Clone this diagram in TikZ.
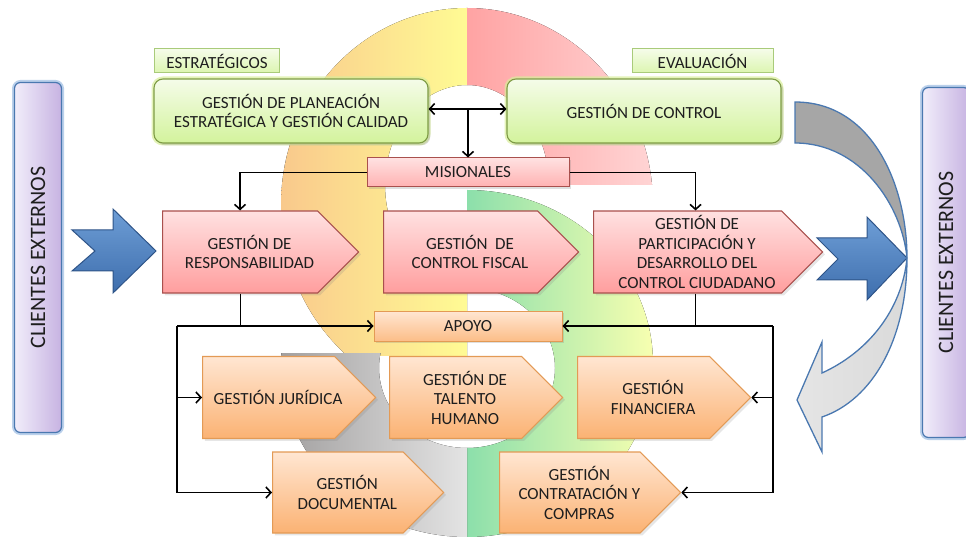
\documentclass[tikz,border=0pt]{standalone}
\usepackage{fontspec}
\setmainfont{Carlito}
\usetikzlibrary{arrows.meta,shapes.symbols,shadows}

\definecolor{texto}{HTML}{1E1E1E}
\definecolor{verdeA}{HTML}{F5FCE9}
\definecolor{verdeB}{HTML}{D3F39C}
\definecolor{verdeBorde}{HTML}{7E9C45}
\definecolor{verdeHalo}{HTML}{D8EE9A}
\definecolor{etiqBorde}{HTML}{A9CB7A}
\definecolor{rosaA}{HTML}{FFE1E1}
\definecolor{rosaB}{HTML}{FF9E9E}
\definecolor{rosaBorde}{HTML}{A9504D}
\definecolor{naranjaA}{HTML}{FFE6D2}
\definecolor{naranjaB}{HTML}{FBB273}
\definecolor{naranjaBorde}{HTML}{E39A55}
\definecolor{lilaA}{HTML}{F1EDFA}
\definecolor{lilaB}{HTML}{C7B3E2}
\definecolor{azulBorde}{HTML}{4A78B0}
\definecolor{azulHalo}{HTML}{A9C4E6}
\definecolor{azulA}{HTML}{6E9ED6}
\definecolor{azulB}{HTML}{3E6EAD}
\definecolor{azulOsc}{HTML}{2E5488}
\definecolor{fondoNar}{HTML}{F9C98C}
\definecolor{fondoAma}{HTML}{FFFB94}
\definecolor{fondoRoj}{HTML}{FFA3A3}
\definecolor{fondoRos}{HTML}{FFD4D4}
\definecolor{fondoVer}{HTML}{8CDFAB}
\definecolor{fondoLim}{HTML}{F7FFB0}
\definecolor{fondoGri}{HTML}{A2A0A0}
\definecolor{fondoGriC}{HTML}{E4E4E4}
\definecolor{grisOsc}{HTML}{A6A6A6}
\definecolor{grisCla}{HTML}{DADADA}

\begin{document}
\begin{tikzpicture}[x=1pt, y=-1pt,
		font=\fontsize{17}{19.5}\selectfont, text=texto,
		verde/.style={rectangle, rounded corners=9pt, draw=verdeBorde, line width=1.1pt, top color=verdeA, bottom color=verdeB, minimum width=274pt, minimum height=64pt, align=center, preaction={draw=verdeHalo, line width=5pt, opacity=0.7}, drop shadow={opacity=0.25}},
		etiqueta/.style={rectangle, draw=etiqBorde, line width=1pt, top color=verdeA, bottom color=verdeB!80, minimum height=24pt, inner sep=0pt},
		rotulo/.style={rectangle, line width=1pt, minimum height=29pt, inner sep=0pt, drop shadow={opacity=0.25}},
		chevron/.style={signal, signal to=east, signal from=nowhere, signal pointer angle=90, line width=1.1pt, drop shadow={opacity=0.2}},
		leyenda/.style={label={[align=center, xshift=9.5pt]center:#1}},
		mision/.style={chevron, draw=rosaBorde, top color=rosaA, bottom color=rosaB, minimum height=82pt},
		soporte/.style={chevron, draw=naranjaBorde, top color=naranjaA, bottom color=naranjaB, minimum height=82pt},
		cliente/.style={rectangle, rounded corners=6pt, draw=azulBorde, line width=1.2pt, left color=lilaA, right color=lilaB, minimum width=350pt, minimum height=47pt, rotate=90, preaction={draw=azulHalo, line width=5pt, opacity=0.8}, font=\fontsize{22}{26}\selectfont},
		flecha/.style={-{Straight Barb[length=5pt,width=11pt]}, line width=1.6pt},
		doble/.style={{Straight Barb[length=5pt,width=11pt]}-{Straight Barb[length=5pt,width=11pt]}, line width=1.6pt}
	]
	\useasboundingbox (0,0) rectangle (966,537);

	% fondo
	\begin{scope}
		\clip (270,0) rectangle (467,355);
		\fill[even odd rule, left color=fondoNar, right color=fondoAma, middle color=fondoAma] (467,205) ellipse [x radius=186, y radius=197] (467,185) ellipse [x radius=82, y radius=100];
	\end{scope}
	\begin{scope}
		\clip (467,0) rectangle (700,185);
		\fill[even odd rule, left color=fondoRoj, right color=fondoRos, middle color=fondoRoj] (467,205) ellipse [x radius=186, y radius=197] (467,185) ellipse [x radius=82, y radius=100];
	\end{scope}
	\begin{scope}
		\clip (467,190) rectangle (700,537);
		\fill[even odd rule, left color=fondoVer, right color=fondoLim, middle color=fondoVer] (467,363.5) ellipse [x radius=186, y radius=173.5] (467,368) ellipse [x radius=88, y radius=80];
	\end{scope}
	\begin{scope}
		\clip (270,353) rectangle (467,537);
		\fill[even odd rule, left color=fondoGri, right color=fondoGriC, middle color=fondoGriC] (467,363.5) ellipse [x radius=186, y radius=173.5] (467,368) ellipse [x radius=88, y radius=80];
	\end{scope}

	% estrategicos y evaluacion
	\node[etiqueta, minimum width=125pt] (estrategicos) at (217,61) {ESTRATÉGICOS};
	\node[etiqueta, minimum width=141pt] (evaluacion) at (702.5,61) {EVALUACIÓN};
	\node[verde] (g-planeacion) at (291,111) {GESTIÓN DE PLANEACIÓN\\ESTRATÉGICA Y GESTIÓN CALIDAD};
	\node[verde] (g-control) at (644,111) {GESTIÓN DE CONTROL};

	% misionales
	\node[rotulo, draw=rosaBorde, top color=rosaA, bottom color=rosaB!80, minimum width=202pt] (misionales) at (468,172.5) {MISIONALES};
	\node[mision, minimum width=196pt, anchor=west, leyenda={GESTIÓN DE\\RESPONSABILIDAD}] (g-responsabilidad) at (162,252) {};
	\node[mision, minimum width=195pt, anchor=west, leyenda={GESTIÓN~ DE\\CONTROL FISCAL}] (g-control-fiscal) at (383,252) {};
	\node[mision, minimum width=229pt, anchor=west, leyenda={GESTIÓN DE\\PARTICIPACIÓN Y\\DESARROLLO DEL\\CONTROL CIUDADANO}] (g-participacion) at (593,252) {};

	% apoyo
	\node[rotulo, draw=naranjaBorde, top color=naranjaA, bottom color=naranjaB!85, minimum width=188pt, minimum height=30pt] (apoyo) at (468,326) {APOYO};
	\node[soporte, minimum width=173pt, anchor=west, leyenda={GESTIÓN JURÍDICA}] (g-juridica) at (202,397.5) {};
	\node[soporte, minimum width=173pt, anchor=west, leyenda={GESTIÓN DE\\TALENTO\\HUMANO}] (g-talento) at (389,397.5) {};
	\node[soporte, minimum width=173pt, anchor=west, leyenda={GESTIÓN\\FINANCIERA}] (g-financiera) at (577,397.5) {};
	\node[soporte, minimum width=171pt, minimum height=81pt, anchor=west, leyenda={GESTIÓN\\DOCUMENTAL}] (g-documental) at (272,492.5) {};
	\node[soporte, minimum width=181pt, minimum height=81pt, anchor=west, leyenda={GESTIÓN\\CONTRATACIÓN Y\\COMPRAS}] (g-contratacion) at (499,492.5) {};

	% clientes
	\node[cliente] (clientes-entrada) at (38,257.5) {CLIENTES EXTERNOS};
	\node[cliente] (clientes-salida) at (946,262.5) {CLIENTES EXTERNOS};

	\coordinate (cruce) at ([yshift=2pt]g-planeacion.east);
	\draw[doble] (cruce) -- (cruce -| g-control.west);
	\draw[flecha] (misionales.north |- cruce) -- (misionales.north);
	\draw[flecha] (misionales.west) -| (g-responsabilidad.north);
	\draw[flecha] (misionales.east) -| ([xshift=8pt]g-participacion.north);

	\coordinate (bus-izq) at (177,326);
	\coordinate (bus-der) at (773,326);
	\draw (g-responsabilidad.south) -- (g-responsabilidad.south |- apoyo.west);
	\draw ([xshift=8pt]g-participacion.south) -- ([xshift=8pt]g-participacion.south |- apoyo.east);
	\draw[flecha] (bus-izq) -- (apoyo.west);
	\draw[flecha] (bus-der) -- (apoyo.east);
	\draw[flecha] (bus-izq) |- (g-documental.west);
	\draw[flecha] (bus-izq |- g-juridica.west) -- (g-juridica.west);
	\draw[flecha] (bus-der) |- (g-contratacion.east);
	\draw[flecha] (bus-der |- g-financiera.east) -- (g-financiera.east);

	% flechas azules
	\draw[azulOsc, line width=1pt, top color=azulA, bottom color=azulB] (72,230) -- (113,230) -- (113,209) -- (156,251) -- (113,293) -- (113,271) -- (72,271) -- (95,251) -- cycle;
	\draw[azulOsc, line width=1pt, top color=azulA, bottom color=azulB] (817,238) -- (867,238) -- (867,217) -- (907,258) -- (867,300) -- (867,280) -- (817,280) -- (838,259) -- cycle;

	% flecha curva
	\draw[azulBorde, line width=1.3pt, fill=grisOsc] (795,102) .. controls (872,102) and (907,185) .. (907,258) .. controls (902,205) and (860,143) .. (795,143) -- cycle;
	\draw[azulBorde, line width=1.3pt, left color=grisCla!70!white, right color=grisCla] (907,258) .. controls (907,340) and (872,400) .. (822,417) -- (822,452) -- (797,400) -- (822,342) -- (822,373) .. controls (868,352) and (902,310) .. (907,258) -- cycle;
\end{tikzpicture}
\end{document}
